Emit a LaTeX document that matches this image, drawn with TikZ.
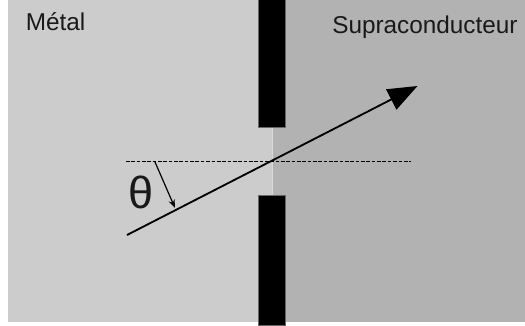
\documentclass[tikz,border=0pt]{standalone}
\usepackage{fontspec}
\setmainfont{Liberation Sans}
\usetikzlibrary{arrows.meta}
\usetikzlibrary{positioning}

\begin{document}
\begin{tikzpicture}[x=0.025cm, y=-0.025cm, >=Stealth,
    label/.style={inner sep=0pt, anchor=base west, text=black!90, font=\fontsize{17.3}{20}\selectfont},
    barrier/.style={fill=black, draw=black!60, line width=0.3pt}]
        % Margins
        \useasboundingbox (0,0) rectangle (525,325);

        % Coordinates
        \coordinate (Start) at (127,235);
        \coordinate (Tip) at (417.5,86);
        \coordinate (DashL) at (126,161.5);
        \coordinate (DashR) at (411,161.5);
        \coordinate (AngA) at (155,162);
        \coordinate (AngB) at (175,208);

        % Metal and superconductor
        \fill[gray!40] (8,0) rectangle (272,322);
        \fill[gray!60] (272,0) rectangle (525,322);
        \fill[gray!30] (271.5,127) rectangle (273,195);

        % Barrier with its opening
        \draw[barrier] (258,-2) rectangle (285,127);
        \draw[barrier] (258,195) rectangle (285,325);

        % Normal to the interface
        \draw[dashed, dash pattern=on 2.6pt off 1.2pt, line width=0.85pt] (DashL) -- (DashR);

        % Incident ray
        \draw[-{Triangle[length=21pt, width=16pt]}, line width=1.3pt] (Start) -- (Tip);

        % Angle
        \draw[-{Stealth[length=6pt, width=4.5pt]}, line width=0.85pt] (AngA) -- (AngB);
        \node[text=black!90, font=\fontsize{32}{36}\selectfont, inner sep=0pt] (Theta) at (141.5,192) {θ};

        % Labels
        \node[label] (Metal) at (25.5,30) {Métal};
        \node[label] (Supra) at (332,33.5) {Supraconducteur};
    \end{tikzpicture}
\end{document}
